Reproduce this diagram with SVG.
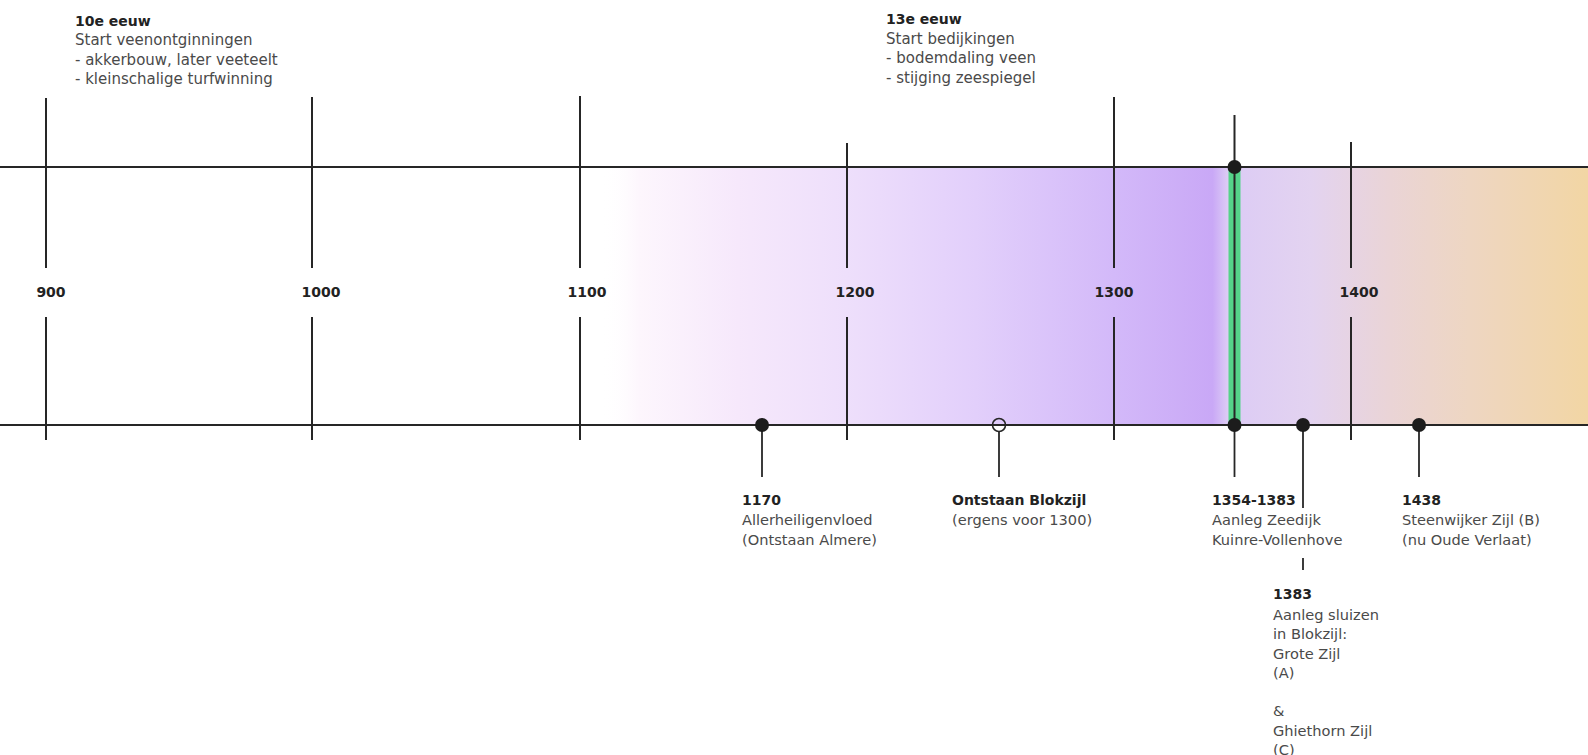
<svg xmlns="http://www.w3.org/2000/svg" width="1588" height="755" viewBox="0 0 1588 755">
<defs>
<linearGradient id="band" x1="600" y1="0" x2="1588" y2="0" gradientUnits="userSpaceOnUse">
<stop offset="0" stop-color="#ffffff" stop-opacity="0"/>
<stop offset="0.04" stop-color="#fdf6fd"/>
<stop offset="0.14" stop-color="#f6e8fb"/>
<stop offset="0.25" stop-color="#eedffb"/>
<stop offset="0.38" stop-color="#e2cffb"/>
<stop offset="0.52" stop-color="#d3b9f9"/>
<stop offset="0.62" stop-color="#c9a8f6"/>
<stop offset="0.635" stop-color="#dccbf5"/>
<stop offset="0.72" stop-color="#e3d3f0"/>
<stop offset="0.80" stop-color="#ead4d6"/>
<stop offset="0.88" stop-color="#eed6c2"/>
<stop offset="1" stop-color="#f2d6a4"/>
</linearGradient>
<style>
.axis{stroke:#262626;stroke-width:2;fill:none}
.tick{stroke:#262626;stroke-width:2;fill:none}
.con{stroke:#262626;stroke-width:1.8;fill:none}
.dot{fill:#1c1c1c}
.open{fill:none;stroke:#262626;stroke-width:1.6}
.yr{font-family:"DejaVu Sans",sans-serif;font-weight:bold;font-size:14px;fill:#222;text-anchor:middle}
.b{font-family:"DejaVu Sans",sans-serif;font-weight:bold;font-size:14px;fill:#222}
.t{font-family:"DejaVu Sans",sans-serif;font-size:14.6px;fill:#4a4a4a}
.h{font-family:"DejaVu Sans",sans-serif;font-size:15px;fill:#4a4a4a}
</style>
</defs>
<rect width="1588" height="755" fill="#ffffff"/>
<rect id="period-band" x="600" y="167" width="988" height="258" fill="url(#band)"/>
<rect id="green-bar" x="1228.5" y="167" width="12" height="258" fill="#55d389"/>

<g id="axis">
<line class="axis" x1="0" y1="167" x2="1588" y2="167"/>
<line class="axis" x1="0" y1="425" x2="1588" y2="425"/>
</g>

<g id="tick-900"><line class="tick" x1="46" y1="98" x2="46" y2="268"/><line class="tick" x1="46" y1="317" x2="46" y2="440"/><text class="yr" x="51" y="297">900</text></g>
<g id="tick-1000"><line class="tick" x1="312" y1="97" x2="312" y2="268"/><line class="tick" x1="312" y1="317" x2="312" y2="440"/><text class="yr" x="321" y="297">1000</text></g>
<g id="tick-1100"><line class="tick" x1="580" y1="96" x2="580" y2="268"/><line class="tick" x1="580" y1="317" x2="580" y2="440"/><text class="yr" x="587" y="297">1100</text></g>
<g id="tick-1200"><line class="tick" x1="847" y1="143" x2="847" y2="268"/><line class="tick" x1="847" y1="317" x2="847" y2="440"/><text class="yr" x="855" y="297">1200</text></g>
<g id="tick-1300"><line class="tick" x1="1114" y1="97" x2="1114" y2="268"/><line class="tick" x1="1114" y1="317" x2="1114" y2="440"/><text class="yr" x="1114" y="297">1300</text></g>
<g id="tick-1400"><line class="tick" x1="1351" y1="142" x2="1351" y2="268"/><line class="tick" x1="1351" y1="317" x2="1351" y2="440"/><text class="yr" x="1359" y="297">1400</text></g>

<g id="connectors">
<line class="tick" x1="1234.5" y1="115" x2="1234.5" y2="425"/>
<line class="con" x1="762" y1="425" x2="762" y2="477"/>
<line class="con" x1="999" y1="431" x2="999" y2="477"/>
<line class="con" x1="1234.5" y1="425" x2="1234.5" y2="477"/>
<line class="con" x1="1303" y1="425" x2="1303" y2="508"/>
<line class="con" x1="1303" y1="558" x2="1303" y2="570"/>
<line class="con" x1="1419" y1="425" x2="1419" y2="477"/>
</g>

<g id="note-10e">
<text class="b" x="75" y="25.5">10e eeuw</text>
<text class="h" x="75" y="45">Start veenontginningen</text>
<text class="h" x="75" y="64.5">- akkerbouw, later veeteelt</text>
<text class="h" x="75" y="84">- kleinschalige turfwinning</text>
</g>
<g id="note-13e">
<text class="b" x="886" y="23.5">13e eeuw</text>
<text class="h" x="886" y="43.5">Start bedijkingen</text>
<text class="h" x="886" y="63">- bodemdaling veen</text>
<text class="h" x="886" y="82.5">- stijging zeespiegel</text>
</g>

<g id="dot-1354-top"><circle class="dot" cx="1234.5" cy="167" r="7"/></g>
<g id="event-1170">
<circle class="dot" cx="762" cy="425" r="7"/>
<text class="b" x="742" y="505">1170</text>
<text class="t" x="742" y="525">Allerheiligenvloed</text>
<text class="t" x="742" y="544.5">(Ontstaan Almere)</text>
</g>
<g id="event-blokzijl">
<circle class="open" cx="999" cy="425" r="6.5"/>
<text class="b" x="952" y="505">Ontstaan Blokzijl</text>
<text class="t" x="952" y="525">(ergens voor 1300)</text>
</g>
<g id="event-1354">
<circle class="dot" cx="1234.5" cy="425" r="7"/>
<text class="b" x="1212" y="505">1354-1383</text>
<text class="t" x="1212" y="525">Aanleg Zeedijk</text>
<text class="t" x="1212" y="544.5">Kuinre-Vollenhove</text>
</g>
<g id="event-1383">
<circle class="dot" cx="1303" cy="425" r="7"/>
<text class="b" x="1273" y="599">1383</text>
<text class="t" x="1273" y="619.5">Aanleg sluizen</text>
<text class="t" x="1273" y="639">in Blokzijl:</text>
<text class="t" x="1273" y="658.5">Grote Zijl</text>
<text class="t" x="1273" y="678">(A)</text>
<text class="t" x="1273" y="716">&amp;</text>
<text class="t" x="1273" y="735.5">Ghiethorn Zijl</text>
<text class="t" x="1273" y="755">(C)</text>
</g>
<g id="event-1438">
<circle class="dot" cx="1419" cy="425" r="7"/>
<text class="b" x="1402" y="505">1438</text>
<text class="t" x="1402" y="525">Steenwijker Zijl (B)</text>
<text class="t" x="1402" y="544.5">(nu Oude Verlaat)</text>
</g>
</svg>
